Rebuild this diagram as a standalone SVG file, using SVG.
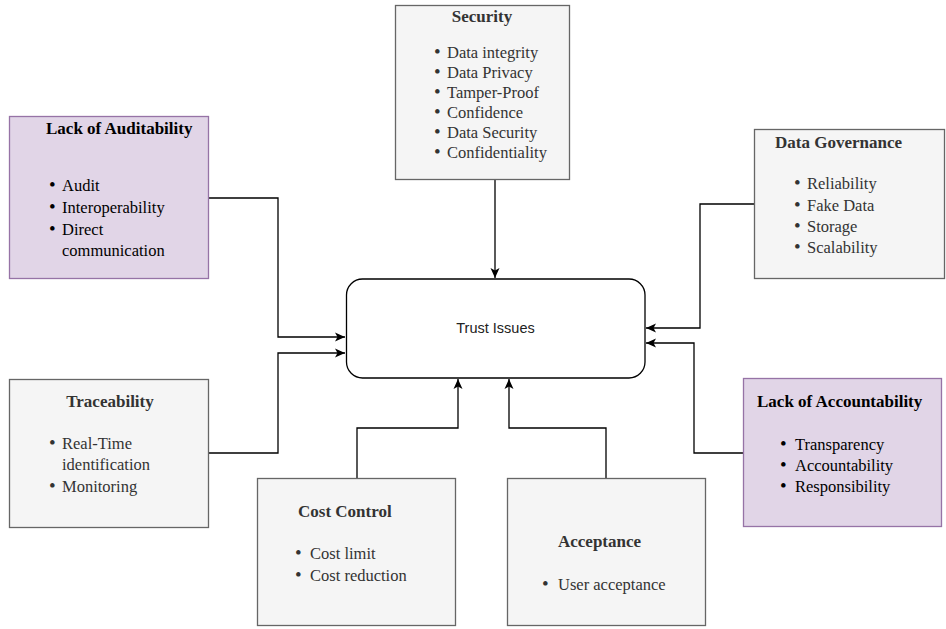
<svg xmlns="http://www.w3.org/2000/svg" width="946" height="629" viewBox="0 0 946 629">
<style>
.grey{fill:#f5f5f5;stroke:#666666;stroke-width:1.3}
.purple{fill:#e1d5e7;stroke:#9673a6;stroke-width:1.3}
.title{font-family:"Liberation Serif","Times New Roman",serif;font-size:17px;font-weight:bold}
.item{font-family:"Liberation Serif","Times New Roman",serif;font-size:16.5px}
.gt{fill:#333333}
.pt{fill:#000000}
.b{font-size:19px}
.conn{fill:none;stroke:#000;stroke-width:1.3}
</style>
<defs>
<marker id="arr" markerUnits="userSpaceOnUse" markerWidth="12" markerHeight="12" viewBox="0 0 12 12" refX="11" refY="6" orient="auto">
<path d="M1,1.5 L11,6 L1,10.5 L3.5,6 Z" fill="#000"/>
</marker>
</defs>
<rect width="946" height="629" fill="#ffffff"/>

<g id="connectors">
<path class="conn" d="M495 180 V278" marker-end="url(#arr)"/>
<path class="conn" d="M208 198 H278 V337 H345" marker-end="url(#arr)"/>
<path class="conn" d="M209 453 H278 V353 H345" marker-end="url(#arr)"/>
<path class="conn" d="M754 204 H700 V328 H646" marker-end="url(#arr)"/>
<path class="conn" d="M743 453 H694 V343 H646" marker-end="url(#arr)"/>
<path class="conn" d="M357 478 V428 H458 V379" marker-end="url(#arr)"/>
<path class="conn" d="M606 478 V428 H509 V379" marker-end="url(#arr)"/>
</g>

<g id="trust">
<rect x="346.5" y="279" width="298.5" height="99" rx="16" ry="16" fill="#ffffff" stroke="#000" stroke-width="1.3"/>
<text x="495.5" y="333" text-anchor="middle" font-family="Liberation Sans, Arial, sans-serif" font-size="14.5" fill="#222">Trust Issues</text>
</g>

<g id="auditability">
<rect class="purple" x="9.5" y="116.5" width="199" height="162"/>
<text class="title pt" x="46" y="134">Lack of Auditability</text>
<g class="item pt">
<text class="b" x="49" y="191">•</text><text x="62" y="191">Audit</text>
<text class="b" x="49" y="213">•</text><text x="62" y="213">Interoperability</text>
<text class="b" x="49" y="235">•</text><text x="62" y="235">Direct</text>
<text x="62" y="256">communication</text>
</g>
</g>

<g id="security">
<rect class="grey" x="395.5" y="5.5" width="174" height="174"/>
<text class="title gt" x="482" y="22" text-anchor="middle">Security</text>
<g class="item gt">
<text class="b" x="434" y="58">•</text><text x="447" y="58">Data integrity</text>
<text class="b" x="434" y="78">•</text><text x="447" y="78">Data Privacy</text>
<text class="b" x="434" y="98">•</text><text x="447" y="98">Tamper-Proof</text>
<text class="b" x="434" y="118">•</text><text x="447" y="118">Confidence</text>
<text class="b" x="434" y="138">•</text><text x="447" y="138">Data Security</text>
<text class="b" x="434" y="158">•</text><text x="447" y="158">Confidentiality</text>
</g>
</g>

<g id="governance">
<rect class="grey" x="754.5" y="129.5" width="190" height="149"/>
<text class="title gt" x="775" y="148">Data Governance</text>
<g class="item gt">
<text class="b" x="794" y="189">•</text><text x="807" y="189">Reliability</text>
<text class="b" x="794" y="211">•</text><text x="807" y="211">Fake Data</text>
<text class="b" x="794" y="232">•</text><text x="807" y="232">Storage</text>
<text class="b" x="794" y="253">•</text><text x="807" y="253">Scalability</text>
</g>
</g>

<g id="traceability">
<rect class="grey" x="9.5" y="379.5" width="199" height="148"/>
<text class="title gt" x="110" y="407" text-anchor="middle">Traceability</text>
<g class="item gt">
<text class="b" x="49" y="449">•</text><text x="62" y="449">Real-Time</text>
<text x="62" y="470">identification</text>
<text class="b" x="49" y="492">•</text><text x="62" y="492">Monitoring</text>
</g>
</g>

<g id="accountability">
<rect class="purple" x="743.5" y="378.5" width="198" height="148"/>
<text class="title pt" x="757" y="407">Lack of Accountability</text>
<g class="item pt">
<text class="b" x="780" y="450">•</text><text x="795" y="450">Transparency</text>
<text class="b" x="780" y="471">•</text><text x="795" y="471">Accountability</text>
<text class="b" x="780" y="492">•</text><text x="795" y="492">Responsibility</text>
</g>
</g>

<g id="cost">
<rect class="grey" x="257.5" y="478.5" width="198" height="147"/>
<text class="title gt" x="298" y="517">Cost Control</text>
<g class="item gt">
<text class="b" x="295" y="559">•</text><text x="310" y="559">Cost limit</text>
<text class="b" x="295" y="581">•</text><text x="310" y="581">Cost reduction</text>
</g>
</g>

<g id="acceptance">
<rect class="grey" x="507.5" y="478.5" width="198" height="147"/>
<text class="title gt" x="558" y="547">Acceptance</text>
<g class="item gt">
<text class="b" x="542" y="590">•</text><text x="558" y="590">User acceptance</text>
</g>
</g>
</svg>
